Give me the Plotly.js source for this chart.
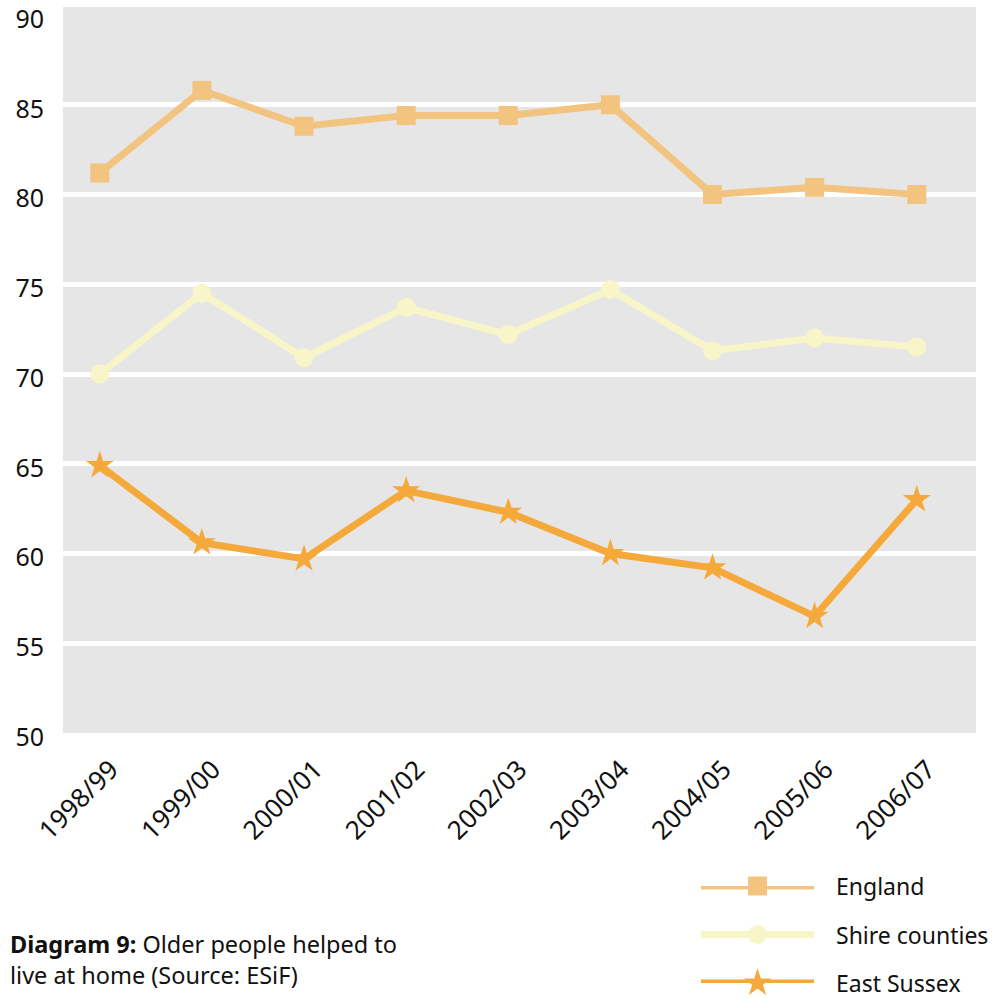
<!DOCTYPE html>
<html>
<head>
<meta charset="utf-8">
<script src="https://cdn.plot.ly/plotly-3.0.1.min.js"></script>
<style>html,body{margin:0;padding:0;background:#fff;}#chart{width:1000px;height:998px;}</style>
</head>
<body>
<div id="chart"></div>
<script>
// Data
const years = ["1998/99","1999/00","2000/01","2001/02","2002/03","2003/04","2004/05","2005/06","2006/07"];
const england = [81.2, 85.8, 83.8, 84.4, 84.4, 85.0, 80.0, 80.4, 80.0];
const shire = [70.0, 74.5, 70.9, 73.7, 72.2, 74.7, 71.3, 72.0, 71.5];
const eastSussex = [64.9, 60.6, 59.7, 63.5, 62.3, 60.0, 59.2, 56.5, 63.0];
const seriesNames = ["England", "Shire counties", "East Sussex"];
const yTicks = [50, 55, 60, 65, 70, 75, 80, 85, 90];
const yGrid = [55, 60, 65, 70, 75, 80, 85];
const caption = "<b>Diagram 9:</b> Older people helped to<br>live at home (Source: ESiF)";

const colors = ["#F3C47F", "#F8F5C9", "#F5A93A"];
const symbols = ["square", "circle", "star"];
const FONT = "Noto Sans, Open Sans, sans-serif";

const W = 1000, H = 998;
const mL = 63, mR = 24, mT = 7, mB = 5;
const plotH = H - mT - mB;
const pyToPaper = py => (H - mB - py) / plotH;
const pxToPaper = px => (px - mL) / (W - mL - mR);

// y axis: 50 at px 733, 90 at px 15; grey panel runs px 7..732
const yTopPx = 15, yBotPx = 733, panelTopPx = 7;
const panelTopFrac = 1 + (yTopPx - panelTopPx) / (yBotPx - yTopPx);

const allSeries = [england, shire, eastSussex];
const traces = allSeries.map((vals, i) => ({
  x: years, y: vals, name: seriesNames[i], type: "scatter", mode: "lines+markers",
  line: {color: colors[i], width: 7},
  marker: {color: colors[i], symbol: symbols[i], size: i === 2 ? 21 : 19},
  xaxis: "x", yaxis: "y", showlegend: false, hoverinfo: "skip", cliponaxis: false
}));

// custom legend samples on a hidden axis
const legendRows = [2, 1, 0];
seriesNames.forEach((n, i) => {
  traces.push({
    x: [0, 1], y: [legendRows[i], legendRows[i]], type: "scatter", mode: "lines",
    line: {color: colors[i], width: 7}, xaxis: "x2", yaxis: "y2", showlegend: false,
    hoverinfo: "skip", cliponaxis: false
  });
  traces.push({
    x: [0.5], y: [legendRows[i]], type: "scatter", mode: "markers",
    marker: {color: colors[i], symbol: symbols[i], size: i === 2 ? 21 : 19},
    xaxis: "x2", yaxis: "y2", showlegend: false, hoverinfo: "skip", cliponaxis: false
  });
});

const annotations = seriesNames.map((n, i) => ({
  text: n, xref: "paper", yref: "y2", x: pxToPaper(834), y: legendRows[i],
  xanchor: "left", yanchor: "middle", showarrow: false,
  font: {family: FONT, size: 23, color: "#111"}
}));
annotations.push({
  text: caption, xref: "paper", yref: "paper", x: pxToPaper(8), y: pyToPaper(959),
  xanchor: "left", yanchor: "middle", align: "left", showarrow: false,
  font: {family: FONT, size: 23.5, color: "#111"}
});

const layout = {
  width: W, height: H,
  margin: {l: mL, r: mR, t: mT, b: mB},
  paper_bgcolor: "#ffffff", plot_bgcolor: "rgba(0,0,0,0)",
  font: {family: FONT, color: "#111"},
  showlegend: false,
  shapes: [{
    type: "rect", xref: "x domain", yref: "y domain", x0: 0, x1: 1, y0: 0, y1: panelTopFrac,
    fillcolor: "#E6E6E6", line: {width: 0}, layer: "below"
  }],
  xaxis: {
    type: "category", range: [-0.36, 8.58], tickangle: -45,
    showgrid: false, zeroline: false, showline: false, ticks: "",
    tickfont: {family: FONT, size: 26, color: "#111"},
    ticklabelstandoff: 15, ticklabelshift: 11,
    anchor: "y", fixedrange: true
  },
  yaxis: {
    range: [50, 90], domain: [pyToPaper(yBotPx), pyToPaper(yTopPx)],
    tickvals: yTicks, ticktext: yTicks.map(String),
    showgrid: false,
    minor: {tickvals: yGrid, showgrid: true, gridcolor: "#ffffff", gridwidth: 5, ticks: ""},
    zeroline: false, showline: false, ticks: "",
    tickfont: {family: FONT, size: 25, color: "#111"},
    ticklabelstandoff: 18, ticklabelshift: 4, ticklabeloverflow: "allow",
    anchor: "x", fixedrange: true
  },
  xaxis2: {domain: [pxToPaper(701), pxToPaper(814)], range: [0, 1], visible: false, anchor: "y2", fixedrange: true},
  yaxis2: {domain: [pyToPaper(983), pyToPaper(886)], range: [0, 2], visible: false, anchor: "x2", fixedrange: true},
  annotations: annotations
};

Plotly.newPlot("chart", traces, layout, {staticPlot: true, displayModeBar: false});
</script>
</body>
</html>
